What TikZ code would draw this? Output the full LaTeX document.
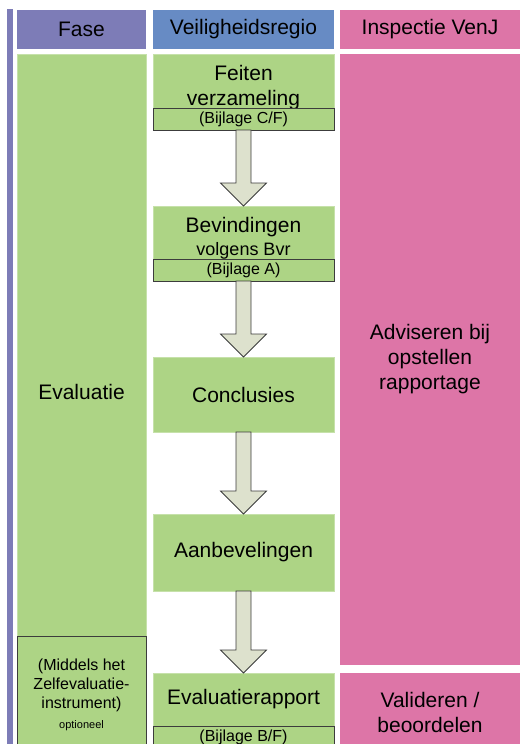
\documentclass[tikz,border=0pt]{standalone}
\usepackage{fontspec}
\setmainfont{Liberation Sans}
\usetikzlibrary{calc}

\definecolor{fasepaars}{RGB}{125,124,183}
\definecolor{regioblauw}{RGB}{103,139,196}
\definecolor{inspectieroze}{RGB}{221,117,167}
\definecolor{groen}{RGB}{173,212,133}
\definecolor{pijlgrijs}{RGB}{221,225,205}
\definecolor{rand}{RGB}{60,60,60}

\newcommand{\blokpijl}[2]{%
  \filldraw[pijl] let \p1 = (#1.south), \p2 = (#2.north) in
    (\x1-7.5pt,\y1) -- (\x1+7.5pt,\y1) -- (\x1+7.5pt,\y2+23pt) -- (\x1+23pt,\y2+23pt)
    -- (\x1,\y2) -- (\x1-23pt,\y2+23pt) -- (\x1-7.5pt,\y2+23pt) -- cycle;}

\begin{document}
\begin{tikzpicture}[x=1pt, y=-1pt,
  vak/.style={anchor=north west, inner sep=0, outer sep=0, align=center,
    font=\fontsize{21}{25}\selectfont},
  groenvak/.style={vak, fill=groen, draw=groen!70!white, line width=0.6pt},
  bijlage/.style={vak, fill=groen, draw=rand, line width=0.8pt, minimum width=181pt,
    minimum height=22pt, font=\fontsize{16}{19}\selectfont},
  pijl/.style={draw=rand, fill=pijlgrijs, line width=0.8pt, line join=miter}]

\useasboundingbox (0,0) rectangle (520,744);
\clip (0,0) rectangle (520,744);

\fill[fasepaars] (7,9) rectangle (13,744);

\node (fase) at (17,10) [vak, fill=fasepaars, minimum width=129pt, minimum height=39pt] {Fase};
\node (regio) at (153,10) [vak, fill=regioblauw, minimum width=181pt, minimum height=39pt] {Veiligheidsregio};
\node (inspectie) at (340,10) [vak, fill=inspectieroze, minimum width=180pt, minimum height=39pt] {Inspectie VenJ};

\node (evaluatie) at (17,54) [groenvak, minimum width=129pt, minimum height=582pt] {};
\node (evaltekst) at (81.5,392) [font=\fontsize{21}{25}\selectfont] {Evaluatie};
\node (middels) at (17,636) [vak, fill=groen, draw=rand, line width=0.8pt, minimum width=129pt,
  minimum height=118pt, font=\fontsize{16}{19}\selectfont]
  {(Middels het\\Zelfevaluatie-\\instrument)\\[1pt]{\fontsize{11}{13}\selectfont optioneel}};

\node (feiten) at (153,54) [groenvak, minimum width=181pt, minimum height=67pt] {Feiten\\verzameling};
\node (bijlCF) at (153,108) [bijlage] {(Bijlage C/F)};

\node (bevindingen) at (153,206) [groenvak, minimum width=181pt, minimum height=64pt]
  {Bevindingen\\[-2pt]{\fontsize{18}{21}\selectfont volgens Bvr}};
\node (bijlA) at (153,259) [bijlage] {(Bijlage A)};

\node (conclusies) at (153,357) [groenvak, minimum width=181pt, minimum height=75pt] {Conclusies};
\node (aanbevelingen) at (153,514) [groenvak, minimum width=181pt, minimum height=77pt] {Aanbevelingen};
\node (evalrapport) at (153,673) [groenvak, minimum width=181pt, minimum height=53pt] {Evaluatierapport};
\node (bijlBF) at (153,726) [bijlage] {(Bijlage B/F)};

\node (adviseren) at (340,54) [vak, fill=inspectieroze, minimum width=180pt, minimum height=611pt]
  {Adviseren bij\\opstellen\\rapportage};
\node (valideren) at (340,673) [vak, fill=inspectieroze, minimum width=180pt, minimum height=78pt]
  {Valideren /\\beoordelen};

\blokpijl{bijlCF}{bevindingen}
\blokpijl{bijlA}{conclusies}
\blokpijl{conclusies}{aanbevelingen}
\blokpijl{aanbevelingen}{evalrapport}

\end{tikzpicture}
\end{document}
